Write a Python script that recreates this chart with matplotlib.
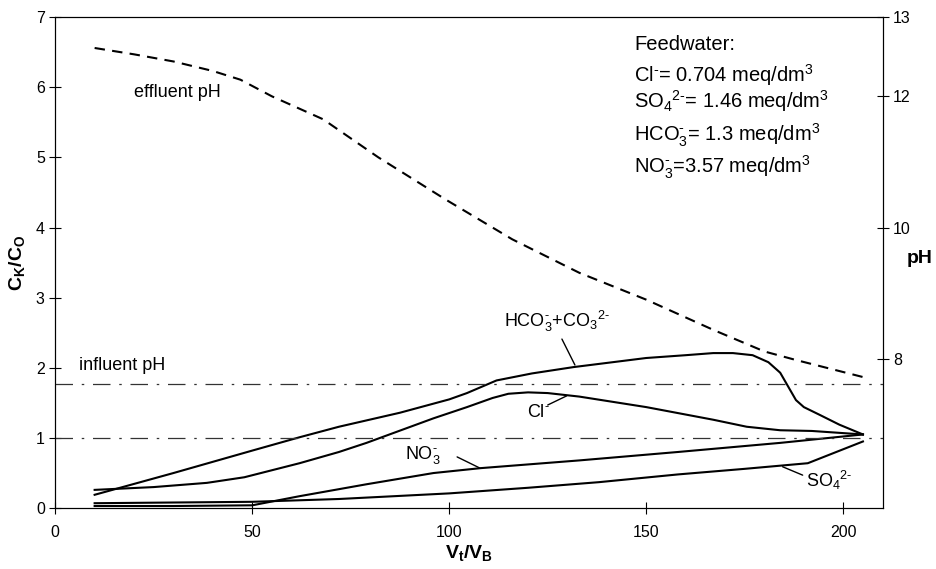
import numpy as np
import matplotlib
matplotlib.use("Agg")
import matplotlib.pyplot as plt

plt.rcParams["font.family"] = ["Liberation Sans", "DejaVu Sans"]
plt.rcParams["mathtext.fontset"] = "custom"
plt.rcParams["mathtext.rm"] = "Liberation Sans"
plt.rcParams["mathtext.it"] = "Liberation Sans:italic"
plt.rcParams["mathtext.bf"] = "Liberation Sans:bold"

# --- data ---
hco3_x = [10, 30, 50, 62, 72, 87.5, 100, 104.5, 112, 121, 131.5, 150, 160, 167, 172, 177, 181, 184, 188, 190, 194, 199, 205]
hco3_y = [0.19, 0.50, 0.82, 1.01, 1.16, 1.36, 1.55, 1.64, 1.82, 1.92, 2.01, 2.14, 2.18, 2.21, 2.21, 2.18, 2.08, 1.93, 1.54, 1.44, 1.33, 1.19, 1.05]

cl_x = [10, 25, 38.5, 48, 55, 62, 72, 79, 96, 104.5, 111, 115, 120, 125, 133, 150, 167, 175.5, 184, 192, 205]
cl_y = [0.26, 0.30, 0.36, 0.44, 0.54, 0.64, 0.80, 0.93, 1.28, 1.44, 1.57, 1.63, 1.65, 1.64, 1.59, 1.44, 1.26, 1.16, 1.11, 1.10, 1.05]

no3_x = [10, 30, 50, 62, 72, 79, 96, 108, 133, 158, 184, 205]
no3_y = [0.03, 0.03, 0.04, 0.17, 0.27, 0.34, 0.50, 0.57, 0.68, 0.80, 0.93, 1.05]

so4_x = [10, 50, 72, 100, 120, 138, 158, 175, 191, 205]
so4_y = [0.07, 0.09, 0.13, 0.21, 0.29, 0.37, 0.48, 0.56, 0.64, 0.95]

ph_x = [10, 20, 30, 40, 47, 55, 68, 82, 99, 116, 133, 150, 167, 180, 188, 205]
ph_y = [12.61, 12.53, 12.44, 12.32, 12.21, 12.00, 11.65, 11.07, 10.43, 9.82, 9.31, 8.90, 8.44, 8.11, 7.98, 7.72]

influent_ph = 7.62
ref_level = 1.0

x_ticks = [0, 50, 100, 150, 200]
y_ticks = [0, 1, 2, 3, 4, 5, 6, 7]
ph_ticks = [8, 10, 12, 13]

feed_lines = [
    "Feedwater:",
    r"Cl$^{\text{-}}$= 0.704 meq/dm$^{3}$",
    r"SO$_{4}$$^{2\text{-}}$= 1.46 meq/dm$^{3}$",
    r"HCO$_{3}^{\text{-}}$= 1.3 meq/dm$^{3}$",
    r"NO$_{3}^{\text{-}}$=3.57 meq/dm$^{3}$",
]

# right pH axis of the original is not linear: map pH -> left-axis position
PH_ANCH = [5.72, 8, 10, 12, 13]
POS_ANCH = [0.0, 2.13, 4.0, 5.87, 7.0]


def ph_fwd(p):
    return np.interp(p, PH_ANCH, POS_ANCH)


def ph_inv(v):
    return np.interp(v, POS_ANCH, PH_ANCH)


fig, ax = plt.subplots(figsize=(9.36, 5.69), dpi=100)
fig.subplots_adjust(left=0.059, right=0.943, bottom=0.107, top=0.970)

lw = 1.5
ax.plot(hco3_x, hco3_y, color="black", lw=lw)
ax.plot(cl_x, cl_y, color="black", lw=lw)
ax.plot(no3_x, no3_y, color="black", lw=lw)
ax.plot(so4_x, so4_y, color="black", lw=lw)
ax.axhline(ref_level, color="#333333", lw=0.9, dashes=(14, 7, 2, 7))

ax.set_xlim(0, 210)
ax.set_ylim(0, 7)
ax.set_xticks(x_ticks)
ax.set_yticks(y_ticks)
ax.tick_params(direction="inout", length=8, width=0.8, labelsize=11.5, colors="black")
ax.tick_params(axis="x", pad=8)
ax.set_xlabel(r"$\mathbf{V_{t}/V_{B}}$", fontsize=14, labelpad=2)
ax.set_ylabel(r"$\mathbf{C_{K}/C_{O}}$", fontsize=14, labelpad=6)
for s in ax.spines.values():
    s.set_linewidth(0.8)

ax2 = ax.twinx()
ax2.set_yscale("function", functions=(ph_fwd, ph_inv))
ax2.set_ylim(5.72, 13)
ax2.set_yticks(ph_ticks)
ax2.yaxis.set_minor_locator(matplotlib.ticker.NullLocator())
ax2.tick_params(direction="inout", length=8, width=0.8, labelsize=11.5)
ax2.plot(ph_x, ph_y, color="black", lw=1.5, dashes=(5, 3.5))
ax2.axhline(influent_ph, color="#333333", lw=0.9, dashes=(14, 7, 2, 7))
ax2.set_ylabel("pH", rotation=0, fontweight="bold", fontsize=14)
ax2.yaxis.set_label_coords(1.045, 0.525)

# labels
fs = 13
ax.text(30.9, 5.93, "effluent pH", fontsize=fs, ha="center", va="center")
ax.text(17.0, 2.03, "influent pH", fontsize=fs, ha="center", va="center")
ax.text(127.3, 2.66, r"HCO$_{3}^{\text{-}}$+CO$_{3}$$^{2\text{-}}$", fontsize=fs, ha="center", va="center")
ax.text(122.7, 1.36, r"Cl$^{\text{-}}$", fontsize=fs, ha="center", va="center")
ax.text(93.3, 0.76, r"NO$_{3}^{\text{-}}$", fontsize=fs, ha="center", va="center")
ax.text(196.5, 0.40, r"SO$_{4}$$^{2\text{-}}$", fontsize=fs, ha="center", va="center")

lead = dict(arrowstyle="-", color="black", lw=1.0, shrinkA=0, shrinkB=0)
ax.annotate("", xy=(131.9, 2.04), xytext=(128.6, 2.41), arrowprops=lead)
ax.annotate("", xy=(129.8, 1.60), xytext=(125.0, 1.47), arrowprops=lead)
ax.annotate("", xy=(107.8, 0.57), xytext=(102.0, 0.73), arrowprops=lead)
ax.annotate("", xy=(184.6, 0.59), xytext=(189.7, 0.47), arrowprops=lead)

feed_y = [0.933, 0.868, 0.815, 0.747, 0.682]
for txt, yy in zip(feed_lines, feed_y):
    ax.text(0.700, yy, txt, transform=ax.transAxes, fontsize=14.5, ha="left", va="baseline")

fig.savefig("out.png", dpi=100)
